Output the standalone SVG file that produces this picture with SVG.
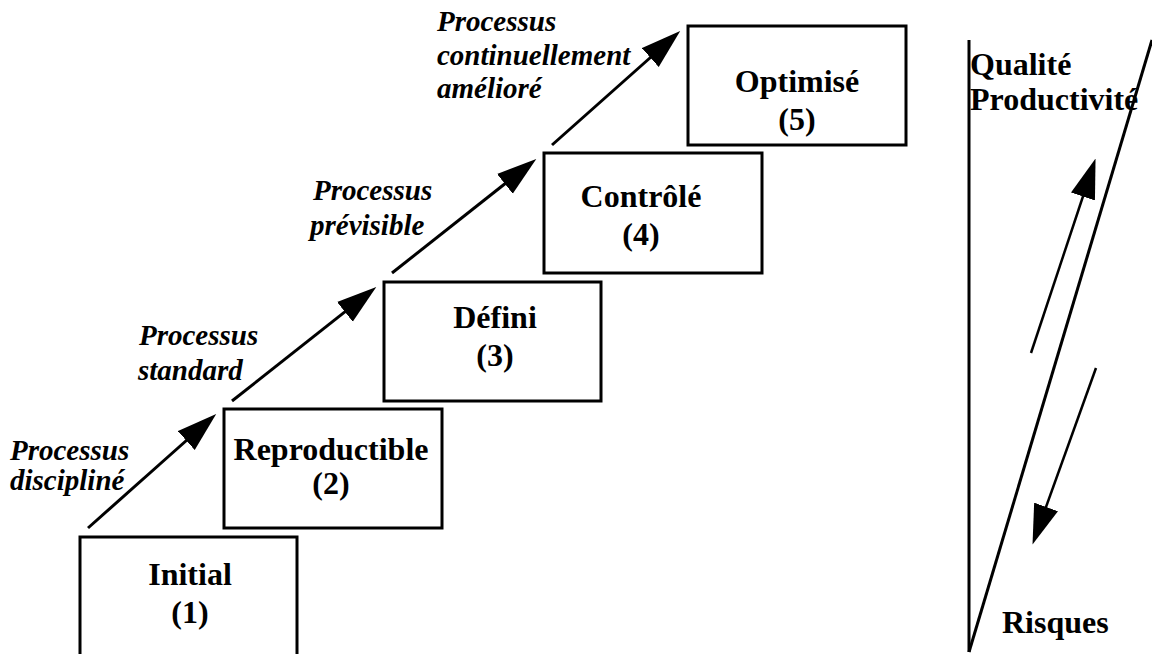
<svg xmlns="http://www.w3.org/2000/svg" width="1152" height="654" viewBox="0 0 1152 654">
  <style>
    .box { fill: #fff; stroke: #000; stroke-width: 3; }
    .lvl { font-family: "Liberation Serif", "Times New Roman", serif; font-weight: bold; font-size: 32px; fill: #000; text-anchor: middle; }
    .proc { font-family: "Liberation Serif", "Times New Roman", serif; font-weight: bold; font-style: italic; font-size: 29px; fill: #000; }
    .side { font-family: "Liberation Serif", "Times New Roman", serif; font-weight: bold; font-size: 32px; fill: #000; }
    .conn { stroke: #000; stroke-width: 3; fill: none; marker-end: url(#head); }
    .trend { stroke: #000; stroke-width: 2.5; fill: none; marker-end: url(#head); }
    .frame { stroke: #000; stroke-width: 3; fill: none; }
  </style>
  <defs>
    <!-- filled arrowhead; tip sits 30px beyond the line end -->
    <marker id="head" markerUnits="userSpaceOnUse" markerWidth="40" markerHeight="26" viewBox="0 0 38 24" refX="8" refY="12" orient="auto">
      <path d="M0,0 L38,12 L0,24 Z" fill="#000"/>
    </marker>
  </defs>

  <!-- maturity levels -->
  <g id="level1">
    <rect class="box" x="80" y="537" width="217" height="130"/>
    <text class="lvl" x="190" y="585">Initial</text>
    <text class="lvl" x="190" y="623">(1)</text>
  </g>
  <g id="level2">
    <rect class="box" x="224" y="409" width="218" height="119"/>
    <text class="lvl" x="331" y="460">Reproductible</text>
    <text class="lvl" x="331" y="494">(2)</text>
  </g>
  <g id="level3">
    <rect class="box" x="384" y="282" width="217" height="119"/>
    <text class="lvl" x="495" y="328">Défini</text>
    <text class="lvl" x="495" y="366">(3)</text>
  </g>
  <g id="level4">
    <rect class="box" x="544" y="153" width="218" height="120"/>
    <text class="lvl" x="641" y="207">Contrôlé</text>
    <text class="lvl" x="641" y="245">(4)</text>
  </g>
  <g id="level5">
    <rect class="box" x="688" y="26" width="218" height="119"/>
    <text class="lvl" x="797" y="92">Optimisé</text>
    <text class="lvl" x="797" y="130">(5)</text>
  </g>

  <!-- step transitions -->
  <g id="connectors">
    <line class="conn" x1="88" y1="528" x2="192.6" y2="435"/>
    <line class="conn" x1="232" y1="401" x2="351.5" y2="306.6"/>
    <line class="conn" x1="392" y1="273" x2="511.5" y2="178.6"/>
    <line class="conn" x1="552" y1="145" x2="656.6" y2="52"/>
  </g>

  <!-- transition labels -->
  <g id="labels">
    <text class="proc" x="10" y="460">Processus</text>
    <text class="proc" x="10" y="490">discipliné</text>
    <text class="proc" x="139" y="345">Processus</text>
    <text class="proc" x="138" y="380">standard</text>
    <text class="proc" x="313" y="200">Processus</text>
    <text class="proc" x="310" y="235">prévisible</text>
    <text class="proc" x="437" y="31">Processus</text>
    <text class="proc" x="437" y="65">continuellement</text>
    <text class="proc" x="437" y="98">amélioré</text>
  </g>

  <!-- quality / risk wedge -->
  <g id="wedge">
    <line class="frame" x1="969" y1="40" x2="969" y2="652"/>
    <line class="frame" x1="969" y1="652" x2="1152" y2="40"/>
    <line class="trend" x1="1031" y1="353" x2="1085.6" y2="188.5"/>
    <line class="trend" x1="1096" y1="368" x2="1043.2" y2="514.8"/>
    <text class="side" x="970" y="75">Qualité</text>
    <text class="side" x="970" y="110">Productivité</text>
    <text class="side" x="1002" y="633">Risques</text>
  </g>
</svg>
